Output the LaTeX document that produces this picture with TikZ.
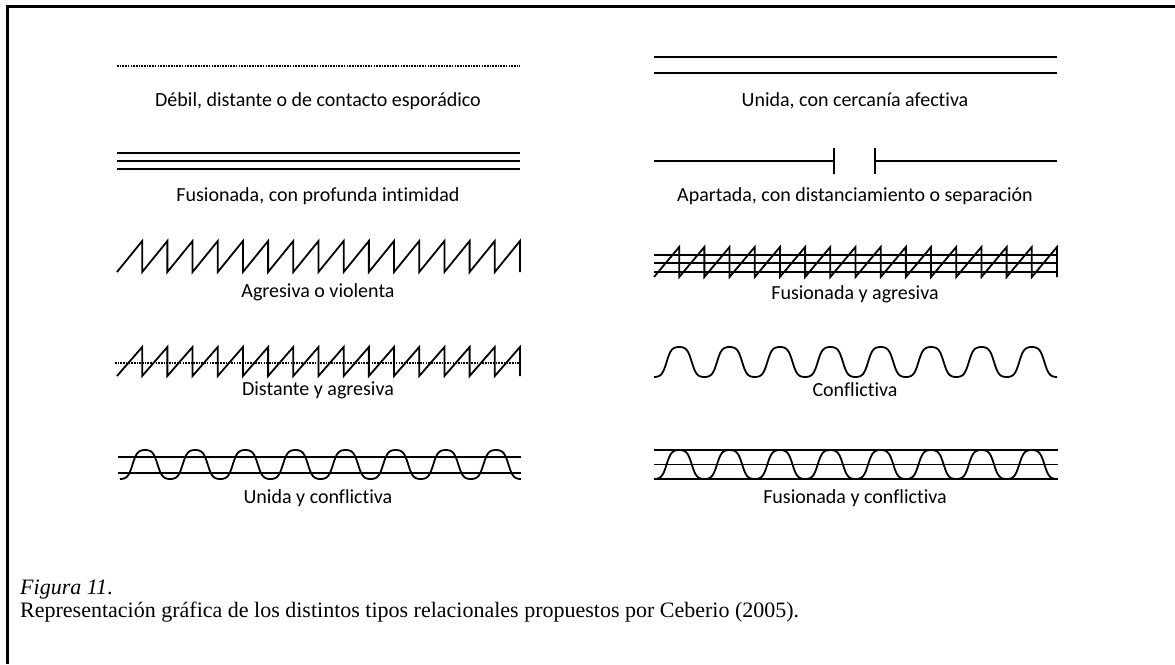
\documentclass[tikz,border=0pt]{standalone}
\usepackage{fontspec}
\setmainfont{Liberation Serif}
\newfontfamily\labelfont[Ligatures=NoCommon]{Carlito}
\usetikzlibrary{
  positioning,
  calc
}
\tikzset{
  tie/.style={
    line width=1.8pt,
  },
  weak/.style={
    tie,
    line width=1.8pt,
    dash pattern=on 1.6pt off 1.1pt,
  },
  tag/.style={
    font=\labelfont\fontsize{20}{24}\selectfont,
    inner sep=0pt,
  },
  frame/.style={
    line width=3pt,
  },
  caption/.style={
    font=\fontsize{22}{26}\selectfont,
    inner sep=0pt,
    anchor=base west,
  },
}
% sawtooth: x0, bottom, height, width
\newcommand{\sawtie}[4]{%
  \draw[tie] (#1,#2) \foreach \k in {1,...,16} { -- ++(#4/16,-#3) -- ++(0,#3) };}
% wave: x0, middle, amplitude, width
\newcommand{\wavetie}[4]{%
  \draw[tie] plot[domain=0:#4, samples=321] ({#1+\x}, {#2+#3*tanh(1.6*cos(\x*(2880/#4)))/tanh(1.6)});}

\begin{document}
\begin{tikzpicture}[x=1pt, y=-1pt]
		\useasboundingbox (0,0) rectangle (1175,664);
		\def\lx{318}
		\def\rx{855}

		% frame
		\draw[frame] (7,664) -- (7,6) -- (1175,6);

		% row 1
		\draw[weak] (117,66) -- (520,66);
		\draw[tie] (654,57) -- (1057,57);
		\draw[tie] (654,73) -- (1057,73);
		\node[tag] (weakl) at (\lx,101) {Débil, distante o de contacto esporádico};
		\node[tag] (unitedl) at (\rx,101) {Unida, con cercanía afectiva};

		% row 2
		\foreach \y in {153,161,169}
			\draw[tie] (117,\y) -- (520,\y);
		\draw[tie] (654,161) -- (834,161) (834,148) -- (834,174);
		\draw[tie] (875,148) -- (875,174) (875,161) -- (1057,161);
		\node[tag] (fusedl) at (\lx,196) {Fusionada, con profunda intimidad};
		\node[tag] (apartl) at (\rx,196) {Apartada, con distanciamiento o separación};

		% row 3
		\sawtie{117}{272}{31}{403}
		\foreach \y in {255,263,272}
			\draw[tie] (654,\y) -- (1057,\y);
		\sawtie{654}{277}{30}{403}
		\node[tag] (aggrl) at (\lx,292) {Agresiva o violenta};
		\node[tag] (fusaggrl) at (\rx,294) {Fusionada y agresiva};

		% row 4
		\draw[weak] (115,363) -- (520,363);
		\sawtie{117}{376}{29}{403}
		\wavetie{654}{362}{15}{403}
		\node[tag] (distaggrl) at (\lx,390) {Distante y agresiva};
		\node[tag] (confl) at (\rx,390) {Conflictiva};

		% row 5
		\foreach \y in {457,473}
			\draw[tie] (118,\y) -- (521,\y);
		\wavetie{120}{464.5}{14.5}{401}
		\foreach \y in {450,464.5,479}
			\draw[tie] (654,\y) -- (1058,\y);
		\wavetie{654}{464.5}{14.5}{403}
		\node[tag] (unitconfl) at (\lx,498) {Unida y conflictiva};
		\node[tag] (fusconfl) at (\rx,498) {Fusionada y conflictiva};

		% caption
		\node[caption] (fig) at (20,594) {\textit{Figura 11}.};
		\node[caption] (figtext) at (20,617) {Representación gráfica de los distintos tipos relacionales propuestos por Ceberio (2005).};
	\end{tikzpicture}
\end{document}
